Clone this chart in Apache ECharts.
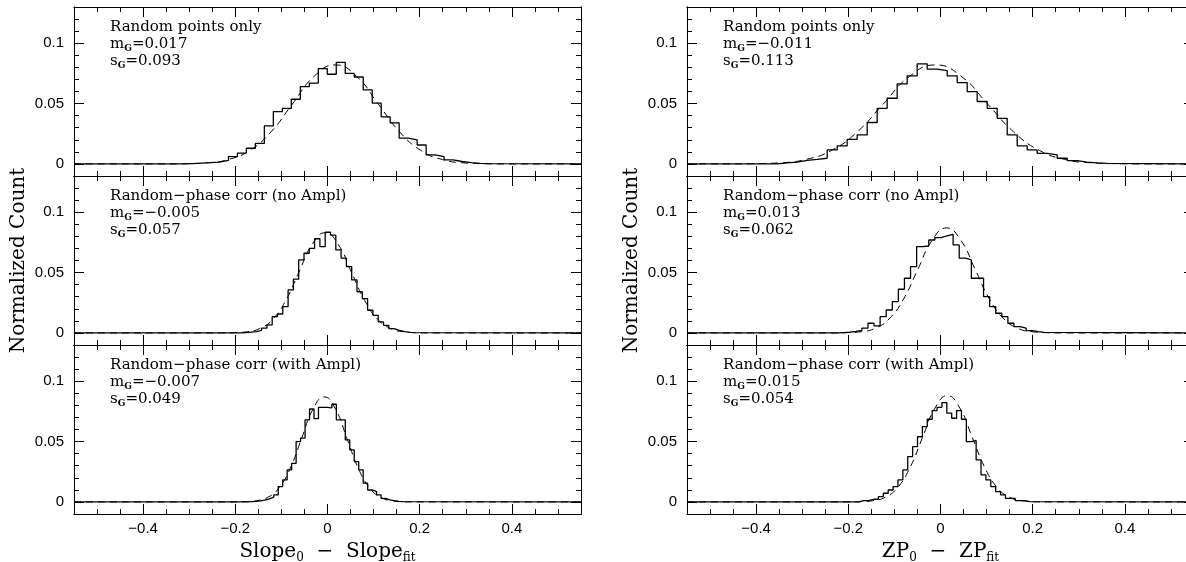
<!DOCTYPE html>
<html>
<head>
<meta charset="utf-8">
<script src="https://cdn.jsdelivr.net/npm/echarts@6/dist/echarts.min.js"></script>
<style>
html, body { margin: 0; padding: 0; background: #fff; }
#viz { width: 1186px; height: 562px; }
</style>
</head>
<body>
<div id="viz"></div>
<script>
/* tick positions */
var xMajorTicks = [-0.4, -0.2, 0, 0.2, 0.4];
var xMinorTicks = [-0.5, -0.45, -0.35, -0.3, -0.25, -0.15, -0.1, -0.05, 0.05, 0.1, 0.15, 0.25, 0.3, 0.35, 0.45, 0.5];
var yMajorTicks = [0, 0.05, 0.1];
var yMinorTicks = [0.01, 0.02, 0.03, 0.04, 0.06, 0.07, 0.08, 0.09, 0.11, 0.12];

/* panel texts (left column top->bottom, then right column) */
var panelTitles = ['Random points only', 'Random\u2212phase corr (no Ampl)', 'Random\u2212phase corr (with Ampl)',
                   'Random points only', 'Random\u2212phase corr (no Ampl)', 'Random\u2212phase corr (with Ampl)'];
var meanG  = ['0.017', '\u22120.005', '\u22120.007', '\u22120.011', '0.013', '0.015'];
var sigmaG = ['0.093', '0.057', '0.049', '0.113', '0.062', '0.054'];

/* histograms: first bin edge, bin width, normalized counts per bin */
var histStart = [-0.3125, -0.189, -0.1748, -0.3544, -0.2234, -0.1771];
var histWidth = [0.0195, 0.0115, 0.0097, 0.0217, 0.0132, 0.0106];
var hist1 = [0.0003, 0.0006, 0.001, 0.0015, 0.003, 0.006, 0.009, 0.013, 0.017, 0.0315, 0.0434, 0.046, 0.0536, 0.064, 0.067, 0.079,
             0.0743, 0.0842, 0.075, 0.072, 0.0613, 0.0503, 0.039, 0.034, 0.0213, 0.020, 0.0157, 0.0075, 0.006, 0.0033, 0.002, 0.001, 0.0005, 0.0002];
var hist2 = [0.0003, 0.0006, 0.0011, 0.0022, 0.0039, 0.0066, 0.0135, 0.0157, 0.0218, 0.0356, 0.0445, 0.0605, 0.066, 0.070, 0.078, 0.0715,
             0.0834, 0.081, 0.0688, 0.062, 0.055, 0.0439, 0.0341, 0.0285, 0.0188, 0.0146, 0.0091, 0.0063, 0.0036, 0.0022, 0.0011, 0.0005, 0.0002];
var hist3 = [0.0002, 0.0004, 0.0008, 0.0015, 0.0025, 0.0039, 0.0058, 0.0127, 0.0182, 0.0265, 0.032, 0.050, 0.0528, 0.0679, 0.077, 0.069, 0.0784, 0.0784,
             0.078, 0.0809, 0.0679, 0.0679, 0.0514, 0.0431, 0.0334, 0.0265, 0.0155, 0.0099, 0.0086, 0.0058, 0.003, 0.0017, 0.001, 0.0005, 0.0002];
var hist4 = [0.0008, 0.0015, 0.003, 0.0038, 0.0047, 0.0116, 0.015, 0.0204, 0.024, 0.0343, 0.0461, 0.0544, 0.0663, 0.073, 0.0829, 0.0785,
             0.0773, 0.073, 0.0674, 0.0599, 0.0517, 0.0461, 0.0378, 0.024, 0.0149, 0.0116, 0.0088, 0.0075, 0.0047, 0.0028, 0.0015, 0.0008, 0.0004];
var hist5 = [0.0003, 0.0006, 0.0012, 0.002, 0.0039, 0.008, 0.0058, 0.0135, 0.019, 0.026, 0.0362, 0.0453, 0.055, 0.0715, 0.072, 0.077, 0.079,
             0.0804, 0.0817, 0.0729, 0.0619, 0.0605, 0.0453, 0.0453, 0.0301, 0.0218, 0.0163, 0.0135, 0.008, 0.0052, 0.0039, 0.0019, 0.001, 0.0005];
var hist6 = [0.001, 0.001, 0.0022, 0.0022, 0.0044, 0.0072, 0.0099, 0.0127, 0.0182, 0.0265, 0.0376, 0.0458, 0.054, 0.0624, 0.0685, 0.0757,
             0.0784, 0.0823, 0.0735, 0.0693, 0.0757, 0.0685, 0.0499, 0.0508, 0.0348, 0.0224, 0.0182, 0.0127, 0.0086, 0.0058, 0.003, 0.003, 0.001, 0.001, 0.0003];

/* dashed gaussian fits */
var gaussX1 = [-0.355, -0.3085, -0.262, -0.2155, -0.169, -0.1225, -0.076, -0.0295, 0.017, 0.0635, 0.11, 0.1565, 0.203, 0.2495, 0.296, 0.3425, 0.389];
var gaussY1 = [0, 0.0002, 0.0009, 0.0036, 0.0111, 0.0266, 0.0497, 0.0724, 0.082, 0.0724, 0.0497, 0.0266, 0.0111, 0.0036, 0.0009, 0.0002, 0];
var gaussX2 = [-0.233, -0.2045, -0.176, -0.1475, -0.119, -0.0905, -0.062, -0.0335, -0.005, 0.0235, 0.052, 0.0805, 0.109, 0.1375, 0.166, 0.1945, 0.223];
var gaussY2 = [0, 0.0002, 0.0009, 0.0036, 0.0112, 0.027, 0.0503, 0.0732, 0.083, 0.0732, 0.0503, 0.027, 0.0112, 0.0036, 0.0009, 0.0002, 0];
var gaussX3 = [-0.203, -0.1785, -0.154, -0.1295, -0.105, -0.0805, -0.056, -0.0315, -0.007, 0.0175, 0.042, 0.0665, 0.091, 0.1155, 0.14, 0.1645, 0.189];
var gaussY3 = [0, 0.0002, 0.001, 0.0038, 0.0118, 0.0282, 0.0528, 0.0768, 0.087, 0.0768, 0.0528, 0.0282, 0.0118, 0.0038, 0.001, 0.0002, 0];
var gaussX4 = [-0.463, -0.4065, -0.35, -0.2935, -0.237, -0.1805, -0.124, -0.0675, -0.011, 0.0455, 0.102, 0.1585, 0.215, 0.2715, 0.328, 0.3845, 0.441];
var gaussY4 = [0, 0.0002, 0.0009, 0.0036, 0.0111, 0.0266, 0.0497, 0.0724, 0.082, 0.0724, 0.0497, 0.0266, 0.0111, 0.0036, 0.0009, 0.0002, 0];
var gaussX5 = [-0.235, -0.204, -0.173, -0.142, -0.111, -0.08, -0.049, -0.018, 0.013, 0.044, 0.075, 0.106, 0.137, 0.168, 0.199, 0.23, 0.261];
var gaussY5 = [0, 0.0002, 0.001, 0.0038, 0.0118, 0.0282, 0.0528, 0.0768, 0.087, 0.0768, 0.0528, 0.0282, 0.0118, 0.0038, 0.001, 0.0002, 0];
var gaussX6 = [-0.201, -0.174, -0.147, -0.12, -0.093, -0.066, -0.039, -0.012, 0.015, 0.042, 0.069, 0.096, 0.123, 0.15, 0.177, 0.204, 0.231];
var gaussY6 = [0, 0.0002, 0.001, 0.0039, 0.0119, 0.0286, 0.0534, 0.0777, 0.088, 0.0777, 0.0534, 0.0286, 0.0119, 0.0039, 0.001, 0.0002, 0];

var histAll  = [hist1, hist2, hist3, hist4, hist5, hist6];
var gaussXAll = [gaussX1, gaussX2, gaussX3, gaussX4, gaussX5, gaussX6];
var gaussYAll = [gaussY1, gaussY2, gaussY3, gaussY4, gaussY5, gaussY6];

var X_MIN = -0.55, X_MAX = 0.55, Y_MIN = -0.01, Y_MAX = 0.13;
var colLeft = [74, 687];
var rowTop = [7, 176, 345];
var panelW = 507, panelH = 169;
var serif = 'DejaVu Serif';
var sans = 'Liberation Sans';

function fmtTick(v){
    return v < 0 ? '\u2212' + String(-v) : String(v);
}

// step outline of one histogram, flat zero line across the whole axis
function buildHist(start, width, vals){
    var pts = [[X_MIN, 0]];
    for (var i = 0; i < vals.length; i++){
        pts.push([start + i * width, vals[i]]);
    }
    pts.push([start + vals.length * width, 0]);
    pts.push([X_MAX, 0]);
    return pts;
}

function buildCurve(xs, ys){
    var pts = [[X_MIN, 0]];
    for (var i = 0; i < xs.length; i++){
        pts.push([xs[i], ys[i]]);
    }
    pts.push([X_MAX, 0]);
    return pts;
}

function xAxisDef(g, pos, ticks, len, withLabels, name){
    var ax = {
        type: 'value', gridIndex: g, position: pos, min: X_MIN, max: X_MAX,
        axisLine: { show: true, onZero: false, lineStyle: { color: '#000', width: 1 } },
        axisTick: { show: true, inside: true, length: len, customValues: ticks, lineStyle: { color: '#000', width: 1 } },
        axisLabel: { show: withLabels, customValues: ticks, formatter: fmtTick, margin: 7,
                     color: '#000', fontFamily: sans, fontSize: 15 },
        splitLine: { show: false }
    };
    if (name){
        ax.name = name;
        ax.nameLocation = 'middle';
        ax.nameGap = 26;
        ax.nameTextStyle = {
            color: '#000', fontFamily: serif, fontSize: 20,
            rich: {
                a: { fontFamily: serif, fontSize: 20, lineHeight: 24, color: '#000' },
                b: { fontFamily: serif, fontSize: 12, lineHeight: 8, verticalAlign: 'bottom', color: '#000' }
            }
        };
    }
    return ax;
}

function yAxisDef(g, pos, ticks, len, withLabels, name){
    var ax = {
        type: 'value', gridIndex: g, position: pos, min: Y_MIN, max: Y_MAX,
        axisLine: { show: true, onZero: false, lineStyle: { color: '#000', width: 1 } },
        axisTick: { show: true, inside: true, length: len, customValues: ticks, lineStyle: { color: '#000', width: 1 } },
        axisLabel: { show: withLabels, customValues: ticks, formatter: fmtTick, margin: 10,
                     color: '#000', fontFamily: sans, fontSize: 15 },
        splitLine: { show: false }
    };
    if (name){
        ax.name = name;
        ax.nameLocation = 'middle';
        ax.nameGap = 45;
        ax.nameTextStyle = { color: '#000', fontFamily: serif, fontSize: 20 };
    }
    return ax;
}

function vizDraw(){
    var chart = echarts.init(document.getElementById('viz'), null, { renderer: 'canvas' });
    var grids = [], xAxes = [], yAxes = [], series = [], graphics = [];

    for (var g = 0; g < 6; g++){
        var col = Math.floor(g / 3), row = g % 3;
        var gx = colLeft[col], gy = rowTop[row];
        grids.push({ left: gx, top: gy, width: panelW, height: panelH, show: false, outerBoundsMode: 'none' });

        var bottomRow = (row === 2);
        var xName = null;
        if (bottomRow){
            xName = col === 0 ? '{a|Slope}{b|0}{a|  \u2212  Slope}{b|fit}' : '{a|ZP}{b|0}{a|  \u2212  ZP}{b|fit}';
        }
        xAxes.push(xAxisDef(g, 'bottom', xMajorTicks, 10, bottomRow, xName));
        xAxes.push(xAxisDef(g, 'bottom', xMinorTicks, 5, false, null));
        xAxes.push(xAxisDef(g, 'top', xMajorTicks, 10, false, null));
        xAxes.push(xAxisDef(g, 'top', xMinorTicks, 5, false, null));

        yAxes.push(yAxisDef(g, 'left', yMajorTicks, 10, true, row === 1 ? 'Normalized Count' : null));
        yAxes.push(yAxisDef(g, 'left', yMinorTicks, 5, false, null));
        yAxes.push(yAxisDef(g, 'right', yMajorTicks, 10, false, null));
        yAxes.push(yAxisDef(g, 'right', yMinorTicks, 5, false, null));

        series.push({
            type: 'line', xAxisIndex: g * 4, yAxisIndex: g * 4,
            data: buildHist(histStart[g], histWidth[g], histAll[g]),
            step: 'end', showSymbol: false, symbol: 'none', silent: true,
            lineStyle: { color: '#000', width: 1.3 }, z: 3
        });
        series.push({
            type: 'line', xAxisIndex: g * 4, yAxisIndex: g * 4,
            data: buildCurve(gaussXAll[g], gaussYAll[g]),
            smooth: 0.5, showSymbol: false, symbol: 'none', silent: true,
            lineStyle: { color: '#000', width: 1, type: [7, 5] }, z: 2
        });

        graphics.push({
            type: 'text', left: gx + 36, top: gy + 13, silent: true,
            style: {
                text: '{t|' + panelTitles[g] + '}\n{t|m}{s|G}{t|=' + meanG[g] + '}\n{t|s}{s|G}{t|=' + sigmaG[g] + '}',
                fill: '#000',
                rich: {
                    t: { fontFamily: serif, fontSize: 15, lineHeight: 17, fill: '#000' },
                    s: { fontFamily: serif, fontSize: 9, lineHeight: 8, verticalAlign: 'bottom', fontWeight: 'bold', fill: '#000' }
                }
            }
        });
    }

    var option = {
        animation: false,
        backgroundColor: '#fff',
        grid: grids,
        xAxis: xAxes,
        yAxis: yAxes,
        series: series,
        graphic: graphics
    };
    chart.setOption(option);
}

vizDraw();
</script>
</body>
</html>
